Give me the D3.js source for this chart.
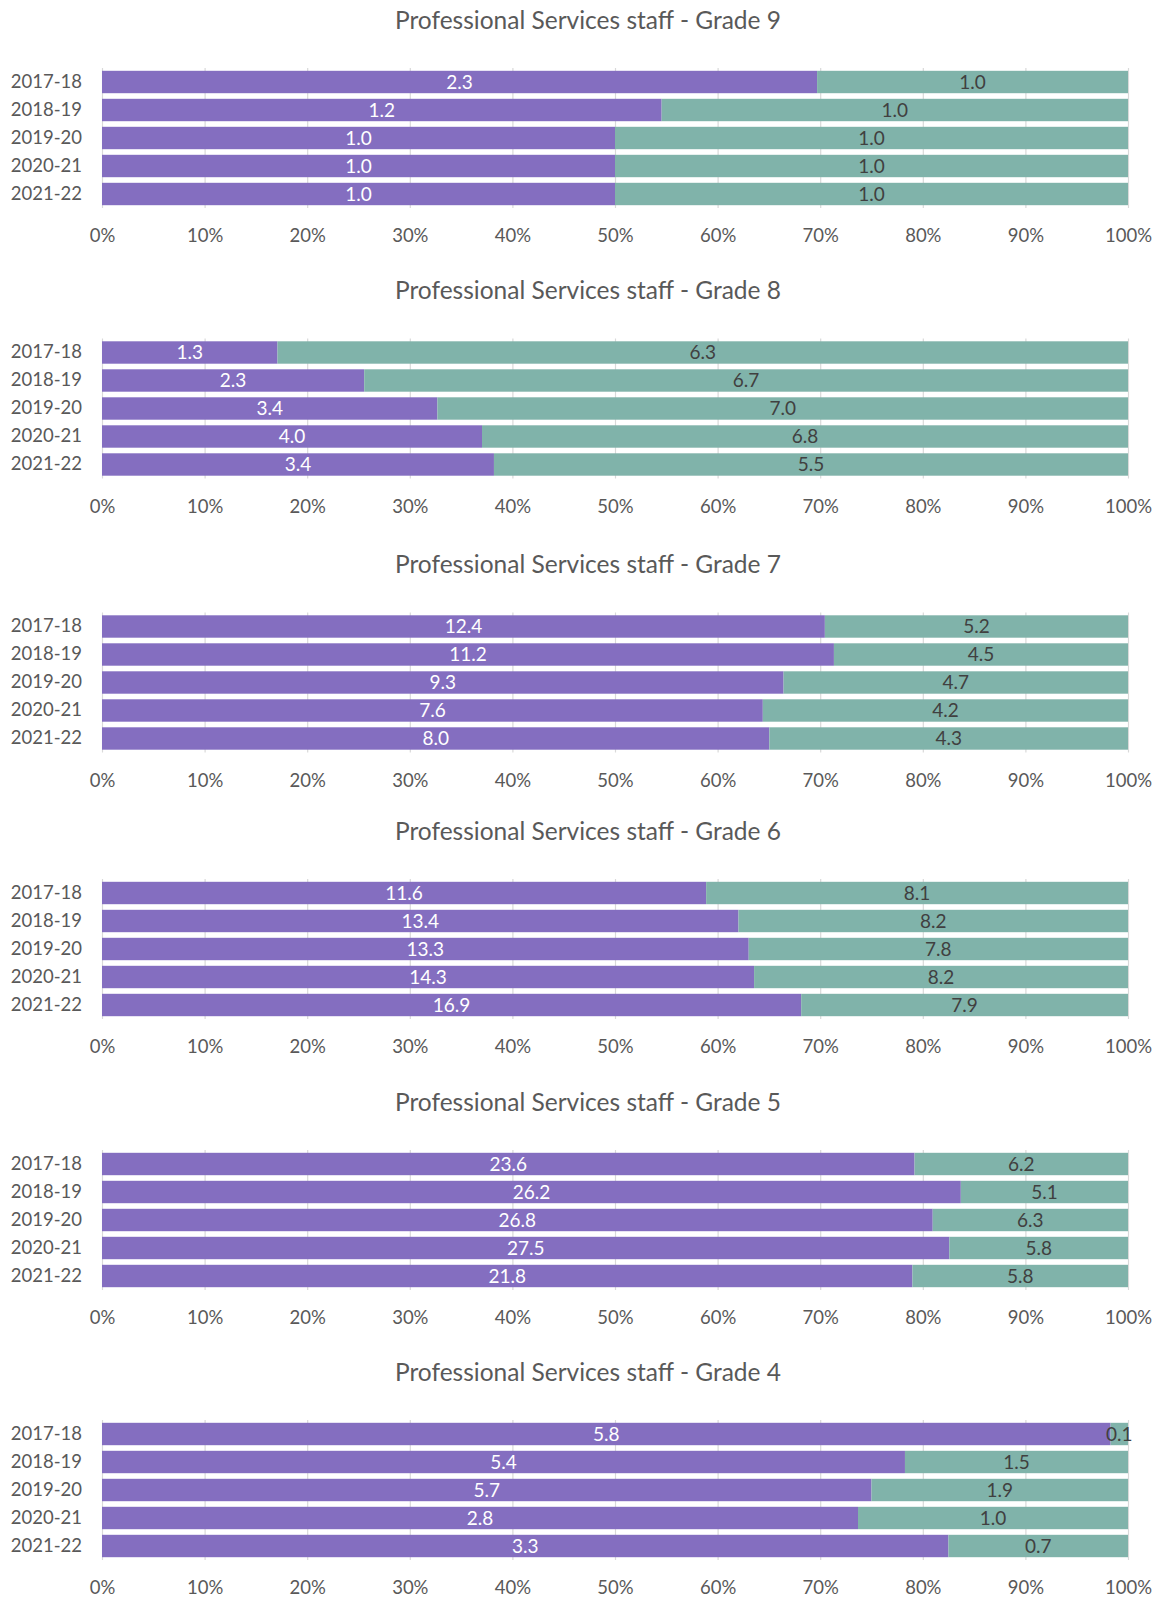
<!DOCTYPE html>
<html>
<head>
<meta charset="utf-8">
<script src="https://cdn.jsdelivr.net/npm/d3@7"></script>
<style>
  body { margin: 0; background: #fff; }
  svg text { font-family: Lato, "Open Sans", sans-serif; }
</style>
</head>
<body>
<svg id="chart" width="1161" height="1598"></svg>
<script>
// Academic years shown on every panel
const years = ["2017-18", "2018-19", "2019-20", "2020-21", "2021-22"];

// One panel per grade, top to bottom
const grades = ["Grade 9", "Grade 8", "Grade 7", "Grade 6", "Grade 5", "Grade 4"];

// First (purple) series, one row per grade, one value per year
const firstSeries = [
  [2.3, 1.2, 1.0, 1.0, 1.0],
  [1.3, 2.3, 3.4, 4.0, 3.4],
  [12.4, 11.2, 9.3, 7.6, 8.0],
  [11.6, 13.4, 13.3, 14.3, 16.9],
  [23.6, 26.2, 26.8, 27.5, 21.8],
  [5.8, 5.4, 5.7, 2.8, 3.3]
];

// Second (teal) series, one row per grade, one value per year
const secondSeries = [
  [1.0, 1.0, 1.0, 1.0, 1.0],
  [6.3, 6.7, 7.0, 6.8, 5.5],
  [5.2, 4.5, 4.7, 4.2, 4.3],
  [8.1, 8.2, 7.8, 8.2, 7.9],
  [6.2, 5.1, 6.3, 5.8, 5.8],
  [0.1, 1.5, 1.9, 1.0, 0.7]
];

// Percentage axis ticks
const tickValues = [0, 0.1, 0.2, 0.3, 0.4, 0.5, 0.6, 0.7, 0.8, 0.9, 1.0];

// Layout
const panelTops = [68, 338.5, 612.5, 879, 1150, 1420];
const plotLeft = 102, plotRight = 1128, plotHeight = 140;
const titleX = 588;
const colors = { first: "#846EC0", second: "#80B3AA" };
const textGrey = "#595959";

const svg = d3.select("#chart");
const x = d3.scaleLinear().domain([0, 1]).range([plotLeft, plotRight]);
const fmt = d3.format(".1f");
const keys = ["first", "second"];
const stack = d3.stack().keys(keys).offset(d3.stackOffsetExpand);

grades.forEach((grade, gi) => {
  const top = panelTops[gi];
  const rows = years.map((year, yi) => ({
    year,
    first: firstSeries[gi][yi],
    second: secondSeries[gi][yi]
  }));
  const series = stack(rows);

  const y = d3.scaleBand()
    .domain(years)
    .range([top, top + plotHeight])
    .paddingInner(0.2)
    .paddingOuter(0.1);

  const g = svg.append("g").attr("class", "panel");

  // Title
  g.append("text")
    .attr("x", titleX)
    .attr("y", top - 48)
    .attr("dy", "0.35em")
    .attr("text-anchor", "middle")
    .attr("fill", textGrey)
    .style("font-size", "24.5px")
    .text("Professional Services staff - " + grade);

  // Vertical gridlines
  const grid = g.append("g")
    .attr("transform", `translate(0,${top})`)
    .call(d3.axisBottom(x).tickValues(tickValues).tickSize(plotHeight).tickFormat(""));
  grid.select(".domain").remove();
  grid.selectAll(".tick line").attr("stroke", "#d9d9d9").attr("stroke-width", 1.2);

  // Stacked bars
  const layers = g.selectAll("g.layer")
    .data(series)
    .join("g")
    .attr("class", "layer")
    .attr("fill", d => colors[d.key]);

  layers.selectAll("rect")
    .data(d => d)
    .join("rect")
    .attr("x", d => x(d[0]))
    .attr("y", d => y(d.data.year))
    .attr("width", d => x(d[1]) - x(d[0]))
    .attr("height", y.bandwidth());

  // Value labels in the middle of each segment
  series.forEach(s => {
    g.append("g")
      .selectAll("text")
      .data(s)
      .join("text")
      .attr("x", d => (x(d[0]) + x(d[1])) / 2)
      .attr("y", d => y(d.data.year) + y.bandwidth() / 2)
      .attr("dy", "0.36em")
      .attr("text-anchor", "middle")
      .attr("fill", s.key === "first" ? "#ffffff" : "#404040")
      .style("font-size", "19px")
      .text(d => fmt(d.data[s.key]));
  });

  // Year axis
  const yAxis = g.append("g")
    .attr("transform", `translate(${plotLeft},0)`)
    .call(d3.axisLeft(y).tickSize(0).tickPadding(20));
  yAxis.select(".domain").remove();
  yAxis.selectAll("text")
    .attr("fill", textGrey)
    .style("font-size", "18.5px");

  // Percentage axis
  const xAxis = g.append("g")
    .attr("transform", `translate(0,${top + plotHeight})`)
    .call(d3.axisBottom(x).tickValues(tickValues).tickSize(0).tickFormat(d3.format(".0%")));
  xAxis.select(".domain").remove();
  xAxis.selectAll("text")
    .attr("y", 28)
    .attr("dy", "0.35em")
    .attr("fill", textGrey)
    .style("font-size", "18.5px");
});
</script>
</body>
</html>
